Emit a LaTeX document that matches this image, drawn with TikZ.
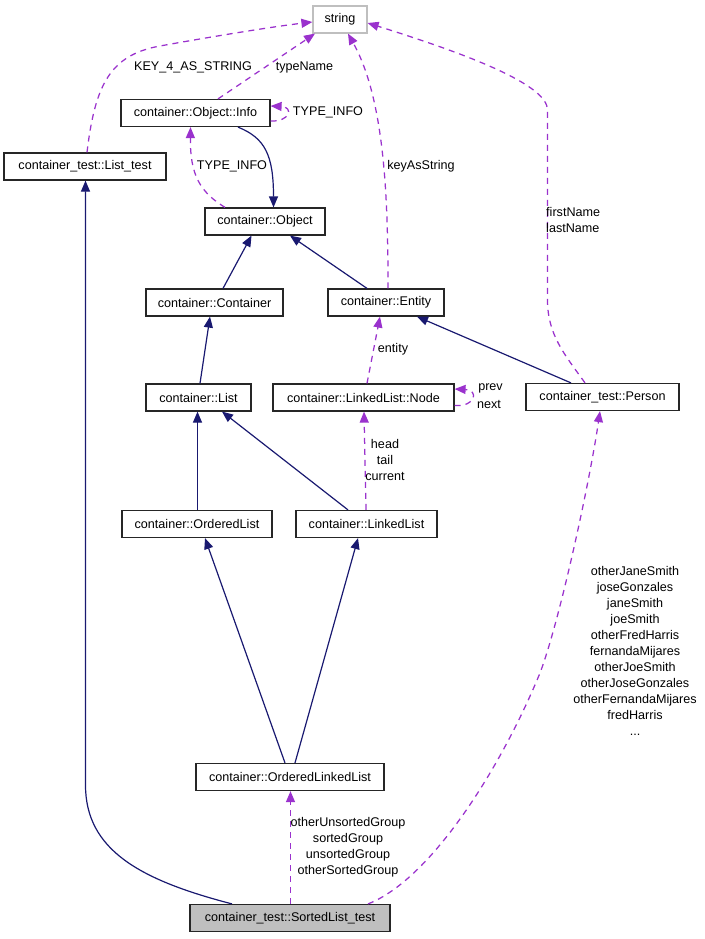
\documentclass[tikz,border=0pt]{standalone}
\usepackage{fontspec}
\setmainfont{Liberation Sans}
\usetikzlibrary{arrows.meta}
\definecolor{navy}{HTML}{191970}
\definecolor{purp}{HTML}{9A32CD}
\begin{document}
\begin{tikzpicture}[x=1pt,y=-1pt,
  font=\fontsize{12.6}{16}\selectfont,
  cls/.style={draw=black!85, line width=1.2pt, fill=white, minimum height=27pt, inner sep=0pt},
  inh/.style={navy, line width=1.2pt, -{Triangle[length=11pt,width=9pt]}},
  use/.style={purp, line width=1.25pt, dash pattern=on 6pt off 5pt, -{Triangle[length=11pt,width=9pt]}},
  lbl/.style={inner sep=0pt, align=center}]
\useasboundingbox (0,0) rectangle (704,939);

% classes
\node[cls, draw=black!25, minimum width=54pt] (string) at (340,19.5) {string};
\node[cls, minimum width=149pt] (Info) at (195.5,113) {container::Object::Info};
\node[cls, minimum width=162pt] (ListTest) at (85,166.5) {container\_test::List\_test};
\node[cls, minimum width=120pt] (Object) at (265,221.5) {container::Object};
\node[cls, minimum width=137pt] (Container) at (214.5,302.5) {container::Container};
\node[cls, minimum width=116pt] (Entity) at (386,302.5) {container::Entity};
\node[cls, minimum width=105pt] (List) at (198.5,397.5) {container::List};
\node[cls, minimum width=181pt] (Node) at (363.5,397.5) {container::LinkedList::Node};
\node[cls, minimum width=153pt] (Person) at (602.5,397) {container\_test::Person};
\node[cls, minimum width=150pt] (OrderedList) at (197,524) {container::OrderedList};
\node[cls, minimum width=141pt] (LinkedList) at (366.5,524) {container::LinkedList};
\node[cls, minimum width=188pt] (OLL) at (290,777) {container::OrderedLinkedList};
\node[cls, fill=black!25, minimum width=200pt] (SLT) at (290,918) {container\_test::SortedList\_test};

% dashed usage edges
\draw[use] ([xshift=2pt]ListTest.north) .. controls (95,85) and (110,55) .. (160,46)
  .. controls (210,37) and (270,27) .. ([yshift=-2.5pt]string.west);
\node[lbl] (lKey) at (193,67) {KEY\_4\_AS\_STRING};

\draw[use] ([xshift=22.5pt]Info.north) -- ([xshift=-25pt]string.south);
\node[lbl] (lType) at (304.5,67) {typeName};

\draw[use] ([yshift=-8pt]Info.east) .. controls (290,122) and (294,107) .. ([yshift=7pt]Info.east);
\node[lbl] (lTI1) at (328,112.5) {TYPE\_INFO};

\draw[use] ([xshift=-40pt]Object.north) .. controls (200,192) and (190,175) .. ([xshift=-5pt]Info.south);
\node[lbl] (lTI2) at (232,166) {TYPE\_INFO};

\draw[use] ([xshift=2pt]Entity.north) .. controls (388,200) and (385,100) .. ([xshift=8pt]string.south);
\node[lbl] (lKeyAs) at (421,166) {keyAsString};

\draw[use] ([xshift=-17.5pt]Person.north) .. controls (565,355) and (547.5,335) .. (547.5,300)
  -- (547.5,110) .. controls (547.5,85) and (470,55) .. ([yshift=-3.5pt]string.east);
\node[lbl, align=left, anchor=west] (lName) at (546,220) {firstName\\lastName};

\draw[use] ([xshift=3.5pt]Node.north) -- ([xshift=-6pt]Entity.south);
\node[lbl] (lEnt) at (393,349) {entity};

\draw[use] ([yshift=-8pt]Node.east) .. controls (476,407) and (479,390) .. ([yshift=8.5pt]Node.east);
\node[lbl] (lPrev) at (490.5,388) {prev};
\node[lbl] (lNext) at (489,404) {next};

\draw[use] ([xshift=-0.5pt]LinkedList.north) -- ([xshift=0.5pt]Node.south);
\node[lbl] (lHead) at (385,460) {head\\tail\\current};

\draw[use] ([xshift=0.5pt]SLT.north) -- ([xshift=0.5pt]OLL.south);
\node[lbl] (lGroup) at (348,847) {otherUnsortedGroup\\sortedGroup\\unsortedGroup\\otherSortedGroup};

\draw[use] ([xshift=78pt]SLT.north) .. controls (430,880) and (500,770) .. (540,673)
  .. controls (560,620) and (590,480) .. ([xshift=-2.5pt]Person.south);
\node[lbl] (lPeople) at (635,651) {otherJaneSmith\\joseGonzales\\janeSmith\\joeSmith\\otherFredHarris\\fernandaMijares\\otherJoeSmith\\otherJoseGonzales\\otherFernandaMijares\\fredHarris\\...};

% solid inheritance edges
\draw[inh] ([xshift=42.5pt]Info.south) .. controls (265,138) and (273.5,155) .. ([xshift=8.5pt]Object.north);
\draw[inh] ([xshift=8.5pt]Container.north) -- ([xshift=-13.5pt]Object.south);
\draw[inh] ([xshift=-19pt]Entity.north) -- ([xshift=25pt]Object.south);
\draw[inh] ([xshift=-31.5pt]Person.north) -- ([xshift=31pt]Entity.south);
\draw[inh] ([xshift=1.5pt]List.north) -- ([xshift=-4.5pt]Container.south);
\draw[inh] ([xshift=0.5pt]OrderedList.north) -- ([xshift=-1pt]List.south);
\draw[inh] ([xshift=-18.5pt]LinkedList.north) -- ([xshift=23.5pt]List.south);
\draw[inh] ([xshift=-5pt]OLL.north) -- ([xshift=8pt]OrderedList.south);
\draw[inh] ([xshift=5pt]OLL.north) -- ([xshift=-8.5pt]LinkedList.south);
\draw[inh] ([xshift=-58pt]SLT.north) .. controls (140,880) and (85.5,850) .. (85.5,785) -- ([xshift=0.5pt]ListTest.south);
\end{tikzpicture}
\end{document}
